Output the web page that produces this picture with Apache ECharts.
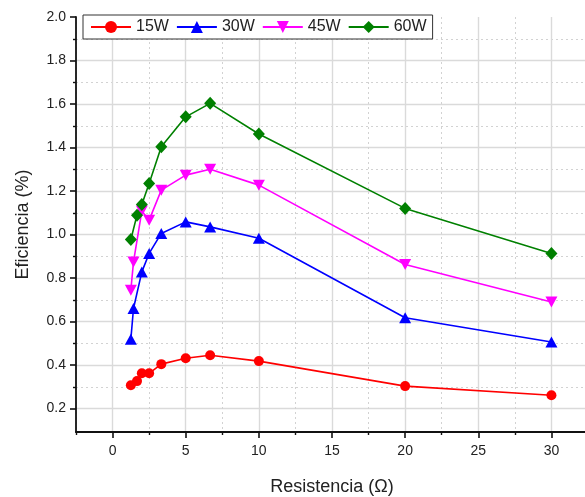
<!DOCTYPE html>
<html>
<head>
<meta charset="utf-8">
<script src="https://cdn.jsdelivr.net/npm/echarts@6/dist/echarts.min.js"></script>
<style>html,body{margin:0;padding:0;background:#fff}#c{width:585px;height:497px}</style>
</head>
<body>
<div id="c"></div>
<script>
// Resistance values (Ohm) per series
const x15 = [1.25, 1.67, 2, 2.5, 3.33, 5, 6.67, 10, 20, 30];
const y15 = [0.307, 0.326, 0.362, 0.362, 0.404, 0.431, 0.445, 0.418, 0.303, 0.261];
const x30 = [1.25, 1.43, 2, 2.5, 3.33, 5, 6.67, 10, 20, 30];
const y30 = [0.519, 0.660, 0.828, 0.913, 1.005, 1.058, 1.035, 0.983, 0.617, 0.506];
const x45 = [1.25, 1.43, 2, 2.5, 3.33, 5, 6.67, 10, 20, 30];
const y45 = [0.744, 0.874, 1.108, 1.066, 1.204, 1.273, 1.300, 1.227, 0.862, 0.690];
const x60 = [1.25, 1.67, 2, 2.5, 3.33, 5, 6.67, 10, 20, 30];
const y60 = [0.977, 1.089, 1.138, 1.235, 1.403, 1.541, 1.603, 1.462, 1.120, 0.913];
const seriesNames = ['15W', '30W', '45W', '60W'];
const xMajorTicks = [0, 5, 10, 15, 20, 25, 30];
const xMinorTicks = [-2.5, 2.5, 7.5, 12.5, 17.5, 22.5, 27.5, 32.5];
const yMajorTicks = [0.2, 0.4, 0.6, 0.8, 1.0, 1.2, 1.4, 1.6, 1.8, 2.0];
const yMinorTicks = [0.3, 0.5, 0.7, 0.9, 1.1, 1.3, 1.5, 1.7, 1.9];

function pairs(xs, ys) { return xs.map((x, i) => [x, ys[i]]); }

const chart = echarts.init(document.getElementById('c'), null, {renderer: 'canvas'});
const font = 'Liberation Sans, Arial, sans-serif';
const textColor = '#222';

const common = {type: 'line', lineStyle: {width: 1.6}, z: 3};

chart.setOption({
  animation: false,
  backgroundColor: '#fff',
  grid: {left: 76, right: -3, top: 17, bottom: 65, outerBoundsMode: 'none', containLabel: false},
  legend: {
    left: 83, top: 15,
    data: seriesNames,
    orient: 'horizontal',
    backgroundColor: '#fff',
    borderColor: '#333', borderWidth: 1, borderRadius: 0,
    padding: [4, 6, 4, 7],
    itemWidth: 40, itemHeight: 15, itemGap: 7,
    textStyle: {fontSize: 16, color: textColor, fontFamily: font, padding: [0, 0, 0, 0]},
    z: 10
  },
  xAxis: [{
    type: 'value', min: -2.5, max: 32.5,
    name: 'Resistencia (Ω)', nameLocation: 'middle', nameGap: 46,
    nameTextStyle: {fontSize: 18, color: textColor, fontFamily: font},
    axisLine: {show: true, onZero: false, lineStyle: {color: '#111', width: 1.8}},
    axisTick: {show: true, inside: false, length: 6, customValues: xMajorTicks, lineStyle: {color: '#111', width: 1.6}},
    axisLabel: {show: true, customValues: xMajorTicks, margin: 12, fontSize: 14, color: textColor, fontFamily: font},
    splitLine: {show: true, lineStyle: {color: '#dadada', width: 1.4, type: 'solid'}}
  }, {
    type: 'value', min: -2.5, max: 32.5, position: 'bottom',
    axisLine: {show: false, onZero: false},
    axisTick: {show: true, inside: false, length: 3, customValues: xMinorTicks, lineStyle: {color: '#111', width: 1.4}},
    axisLabel: {show: false, customValues: xMinorTicks},
    splitLine: {show: true, lineStyle: {color: '#d2d2d2', width: 1, type: [2, 3]}}
  }],
  yAxis: [{
    type: 'value', min: 0.092, max: 2.0,
    name: 'Eficiencia (%)', nameLocation: 'middle', nameGap: 44, nameRotate: 90,
    nameTextStyle: {fontSize: 18, color: textColor, fontFamily: font},
    axisLine: {show: true, onZero: false, lineStyle: {color: '#111', width: 1.8}},
    axisTick: {show: true, inside: false, length: 6, customValues: yMajorTicks, lineStyle: {color: '#111', width: 1.6}},
    axisLabel: {show: true, customValues: yMajorTicks, margin: 10, fontSize: 14, color: textColor, fontFamily: font,
      formatter: v => v.toFixed(1)},
    splitLine: {show: true, showMaxLine: false, lineStyle: {color: '#dadada', width: 1.4, type: 'solid'}}
  }, {
    type: 'value', min: 0.092, max: 2.0, position: 'left', offset: 0,
    axisLine: {show: false, onZero: false},
    axisTick: {show: true, inside: false, length: 3, customValues: yMinorTicks, lineStyle: {color: '#111', width: 1.4}},
    axisLabel: {show: false, customValues: yMinorTicks},
    splitLine: {show: true, lineStyle: {color: '#d2d2d2', width: 1, type: [2, 3]}}
  }],
  series: [
    Object.assign({}, common, {name: seriesNames[0], data: pairs(x15, y15), symbol: 'circle', symbolSize: 10,
      itemStyle: {color: '#ff0000'}, lineStyle: {width: 1.6, color: '#ff0000'}}),
    Object.assign({}, common, {name: seriesNames[1], data: pairs(x30, y30), symbol: 'triangle', symbolSize: [12, 11],
      itemStyle: {color: '#0000ff'}, lineStyle: {width: 1.6, color: '#0000ff'}}),
    Object.assign({}, common, {name: seriesNames[2], data: pairs(x45, y45), symbol: 'triangle', symbolRotate: 180, symbolSize: [12, 11],
      itemStyle: {color: '#ff00ff'}, lineStyle: {width: 1.6, color: '#ff00ff'}}),
    Object.assign({}, common, {name: seriesNames[3], data: pairs(x60, y60), symbol: 'diamond', symbolSize: [12, 13],
      itemStyle: {color: '#008000'}, lineStyle: {width: 1.6, color: '#008000'}})
  ]
});
</script>
</body>
</html>
